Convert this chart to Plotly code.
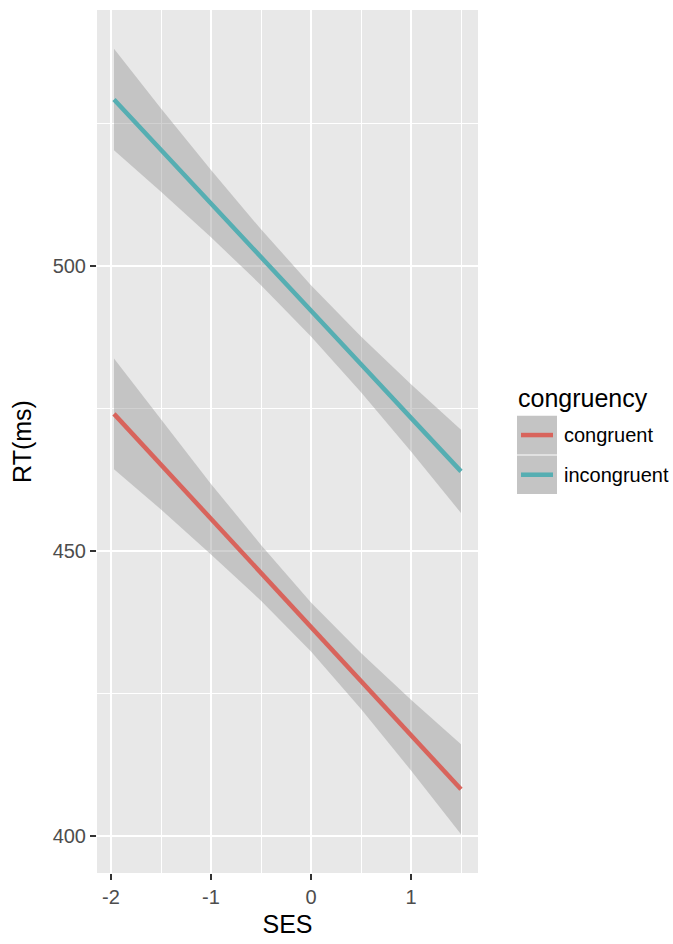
import plotly.graph_objects as go

# ---- data ----
ses = [-1.97, -1.5, -1.0, -0.5, 0.0, 0.5, 1.0, 1.5]

congruent_fit = [474.1, 465.2, 455.6, 446.2, 436.7, 427.2, 417.7, 408.2]
congruent_upper = [483.8, 473.1, 461.8, 451.1, 441.0, 432.1, 423.9, 416.1]
congruent_lower = [464.4, 457.3, 449.4, 441.3, 432.4, 422.3, 411.5, 400.3]

incongruent_fit = [529.3, 520.4, 511.0, 501.6, 492.2, 482.8, 473.4, 464.0]
incongruent_upper = [538.2, 527.7, 516.9, 506.5, 496.7, 487.7, 479.3, 471.3]
incongruent_lower = [520.4, 513.1, 505.1, 496.7, 487.7, 477.9, 467.5, 456.7]

groups = ["congruent", "incongruent"]
x_ticks = [-2, -1, 0, 1]
x_tick_labels = ["-2", "-1", "0", "1"]
y_ticks = [400, 450, 500]
y_tick_labels = ["400", "450", "500"]

# ---- styling ----
W, H = 673, 944
L, R, T, B = 97, 195, 10, 64
FONT = "Liberation Sans, Arial, Helvetica, sans-serif"
COLORS = {"congruent": "#D8645C", "incongruent": "#56AEB2"}
RIBBON = "rgba(153,153,153,0.45)"
PANEL = "#E8E8E8"

series = {
    "congruent": (congruent_fit, congruent_upper, congruent_lower),
    "incongruent": (incongruent_fit, incongruent_upper, incongruent_lower),
}

fig = go.Figure()

for g in groups:
    fit, up, lo = series[g]
    fig.add_trace(go.Scatter(
        x=ses + ses[::-1], y=up + lo[::-1],
        fill="toself", fillcolor=RIBBON, line=dict(width=0),
        mode="lines", hoverinfo="skip", showlegend=False))

for g in groups:
    fit, up, lo = series[g]
    fig.add_trace(go.Scatter(
        x=ses, y=fit, mode="lines", name=g,
        line=dict(color=COLORS[g], width=4.5), showlegend=False))

pw = W - L - R
ph = H - T - B


def px_x(p):
    return (p - L) / pw


def px_y(p):
    return (H - B - p) / ph


# manual ggplot-style legend
shapes = []
annotations = []
annotations.append(dict(text="congruency", x=px_x(516), y=px_y(401), xref="paper", yref="paper",
                        xanchor="left", yanchor="middle", showarrow=False,
                        font=dict(family=FONT, size=25, color="black")))
key_tops = [419, 459]
for g, top in zip(groups, key_tops):
    shapes.append(dict(type="rect", xref="paper", yref="paper",
                       x0=px_x(517), x1=px_x(557), y0=px_y(top), y1=px_y(top + 39),
                       fillcolor="#C4C4C4", line=dict(width=0), layer="above"))
    cy = top + 19.5
    shapes.append(dict(type="line", xref="paper", yref="paper",
                       x0=px_x(521), x1=px_x(553), y0=px_y(cy), y1=px_y(cy),
                       line=dict(color=COLORS[g], width=4.5), layer="above"))
    annotations.append(dict(text=g, x=px_x(562), y=px_y(cy), xref="paper", yref="paper",
                            xanchor="left", yanchor="middle", showarrow=False,
                            font=dict(family=FONT, size=20, color="black")))

fig.update_layout(
    width=W, height=H,
    margin=dict(l=L, r=R, t=T, b=B, pad=0),
    paper_bgcolor="white", plot_bgcolor=PANEL,
    font=dict(family=FONT, size=20, color="#4D4D4D"),
    showlegend=False,
    shapes=shapes, annotations=annotations,
    xaxis=dict(
        range=[-2.14, 1.67], tickmode="array", tickvals=x_ticks, ticktext=x_tick_labels,
        showgrid=True, gridcolor="white", gridwidth=1.6, zeroline=False,
        minor=dict(dtick=0.5, tick0=-2, showgrid=True, gridcolor="white", gridwidth=0.8, ticks=""),
        ticks="outside", ticklen=6, tickwidth=2, tickcolor="#333333",
        tickfont=dict(family=FONT, size=20, color="#4D4D4D"),
        showline=False,
        title=dict(text="SES", font=dict(family=FONT, size=25, color="black"), standoff=8),
    ),
    yaxis=dict(
        range=[393.5, 545.0], tickmode="array", tickvals=y_ticks, ticktext=y_tick_labels,
        showgrid=True, gridcolor="white", gridwidth=1.6, zeroline=False,
        minor=dict(dtick=25, tick0=400, showgrid=True, gridcolor="white", gridwidth=0.8, ticks=""),
        ticks="outside", ticklen=6, tickwidth=2, tickcolor="#333333",
        tickfont=dict(family=FONT, size=20, color="#4D4D4D"),
        showline=False,
        title=dict(text="RT(ms)", font=dict(family=FONT, size=25, color="black"), standoff=13),
    ),
)

fig.write_html("out.html")
